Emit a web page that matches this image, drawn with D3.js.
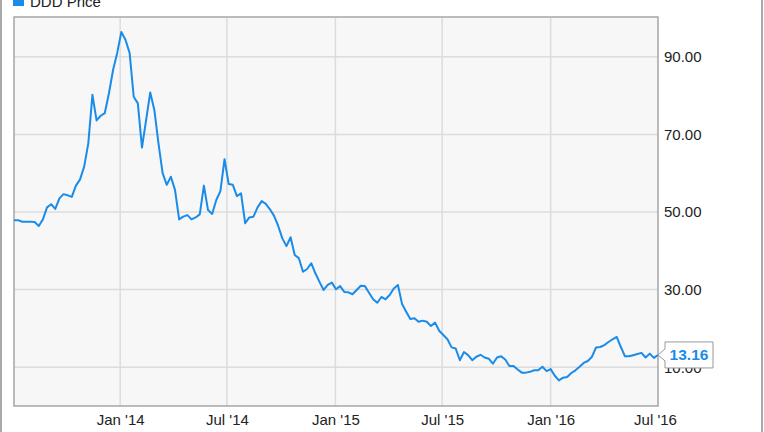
<!DOCTYPE html>
<html><head><meta charset="utf-8">
<script src="https://cdn.jsdelivr.net/npm/d3@7"></script>
<style>html,body{margin:0;padding:0;background:#fff;}svg{display:block;}</style>
</head><body>
<svg id="chart" width="764" height="432"></svg>
<script>
// Weekly closing prices (Fridays), Jul 5 2013 .. Jul 1 2016
const startDate = "2013-07-05";
const endDate = "2016-07-01";
const prices = [
47.9,47.9,47.5,47.5,47.5,47.4,46.4,48.1,51.2,52.0,
50.8,53.5,54.6,54.3,53.9,56.8,58.4,61.7,67.7,80.2,
73.6,74.8,75.5,80.6,86.6,91.0,96.4,94.4,91.0,79.7,
78.0,66.6,73.7,80.8,76.3,67.7,60.0,57.0,59.1,55.7,
48.1,48.8,49.2,48.1,48.6,49.4,56.8,50.5,49.5,53.1,
55.4,63.6,57.2,57.0,54.1,54.8,47.1,48.6,48.8,51.2,
52.8,52.1,50.7,49.0,46.4,43.2,41.2,43.5,38.9,38.1,
34.6,35.3,36.8,34.2,32.0,29.9,31.2,31.8,30.1,30.9,
29.4,29.3,28.8,29.9,31.0,30.9,29.2,27.5,26.6,28.1,
27.5,28.6,30.3,31.2,26.3,24.3,22.4,22.6,21.7,22.0,
21.7,20.6,21.5,19.4,18.3,17.2,15.1,14.8,11.8,13.9,
13.1,11.8,12.7,13.2,12.5,12.2,10.9,12.5,12.8,12.0,
10.3,10.3,9.4,8.6,8.6,8.8,9.2,9.2,10.1,9.0,
9.5,7.8,6.6,7.3,7.5,8.5,9.2,10.1,11.1,11.6,
12.7,15.1,15.2,15.7,16.5,17.2,17.8,15.2,12.8,12.8,
13.1,13.4,13.7,12.5,13.5,12.4,13.16
];
const yTicks = [10, 30, 50, 70, 90];
const xTickDates = ["2014-01-01","2014-07-01","2015-01-01","2015-07-01","2016-01-01","2016-07-01"];
const xTickLabels = ["Jan '14","Jul '14","Jan '15","Jul '15","Jan '16","Jul '16"];
const seriesName = "DDD Price";
const lastLabel = "13.16";

const parse = d3.timeParse("%Y-%m-%d");
const dates = d3.timeWeek.every(1) ? d3.timeDay.range(parse(startDate), d3.timeDay.offset(parse(endDate),1), 7) : [];
const data = prices.map((v,i)=>({date: dates[i], value: v}));

const svg = d3.select("#chart");
const W = 764, H = 432;
const L = 14, R = 658, T = 18, B = 406;
const blue = "#1a8be8";

// outer frame lines
svg.append("line").attr("x1",1).attr("x2",1).attr("y1",0).attr("y2",H).attr("stroke","#8c8c8c").attr("stroke-width",1.5);
svg.append("line").attr("x1",762).attr("x2",762).attr("y1",0).attr("y2",H).attr("stroke","#8c8c8c").attr("stroke-width",1.5);

const x = d3.scaleTime().domain([parse(startDate), parse(endDate)]).range([L, R]);
const y = d3.scaleLinear().domain([0, 100]).range([B, T]);

svg.append("rect").attr("x",L).attr("y",T-1).attr("width",R-L).attr("height",B-T+1)
  .attr("fill","#f7f7f7");

// grid
const gx = svg.append("g");
gx.selectAll("line.h").data(yTicks).join("line")
  .attr("x1",L).attr("x2",R).attr("y1",d=>y(d)).attr("y2",d=>y(d))
  .attr("stroke","#dcdcdc").attr("stroke-width",1.5);
gx.selectAll("line.v").data(xTickDates.slice(0,-1)).join("line")
  .attr("y1",T).attr("y2",B).attr("x1",d=>x(parse(d))).attr("x2",d=>x(parse(d)))
  .attr("stroke","#dcdcdc").attr("stroke-width",1.5);

svg.append("rect").attr("x",L).attr("y",T-1).attr("width",R-L).attr("height",B-T+1)
  .attr("fill","none").attr("stroke","#a6a6a6").attr("stroke-width",1.5);

// axes
const yAxis = d3.axisRight(y).tickValues(yTicks).tickFormat(d3.format(".2f")).tickSize(0).tickPadding(6);
const ya = svg.append("g").attr("transform",`translate(${R},0)`).call(yAxis);
ya.select(".domain").remove();
ya.selectAll("text").attr("font-family","Liberation Sans, Arial, sans-serif").attr("font-size",15).attr("fill","#222");

const xAxis = d3.axisBottom(x).tickValues(xTickDates.map(parse)).tickFormat((d,i)=>xTickLabels[i]).tickSize(0).tickPadding(8);
const xa = svg.append("g").attr("transform",`translate(0,${B})`).call(xAxis);
xa.select(".domain").remove();
xa.selectAll("text").attr("font-family","Liberation Sans, Arial, sans-serif").attr("font-size",15).attr("fill","#222");
xa.selectAll(".tick").filter((d,i)=>i===xTickLabels.length-1).select("text").attr("dx",-3);

// line
const line = d3.line().x(d=>x(d.date)).y(d=>y(d.value));
svg.append("path").datum(data).attr("d",line).attr("fill","none")
  .attr("stroke",blue).attr("stroke-width",2).attr("stroke-linejoin","round");

// last value label
const last = data[data.length-1];
const lx = x(last.date), ly = y(last.value);
const bx = 665, bw = 48, bh = 26, by = ly - 13;
const lbl = svg.append("g");
lbl.append("path")
  .attr("d",`M${lx},${ly} L${bx},${ly-6} L${bx},${by} L${bx+bw},${by} L${bx+bw},${by+bh} L${bx},${by+bh} L${bx},${ly+6} Z`)
  .attr("fill","#fff").attr("stroke","#999").attr("stroke-width",1);
lbl.append("text").attr("x",bx+bw/2).attr("y",ly+5.5).attr("text-anchor","middle")
  .attr("font-family","Liberation Sans, Arial, sans-serif").attr("font-size",15.5).attr("font-weight","bold")
  .attr("fill",blue).text(lastLabel);

// legend (partly cut at top)
svg.append("rect").attr("x",13).attr("y",-5).attr("width",11).attr("height",11).attr("fill",blue);
svg.append("text").attr("x",30).attr("y",6.5).attr("font-family","Liberation Sans, Arial, sans-serif")
  .attr("font-size",15).attr("fill","#222").text(seriesName);
</script>
</body></html>
